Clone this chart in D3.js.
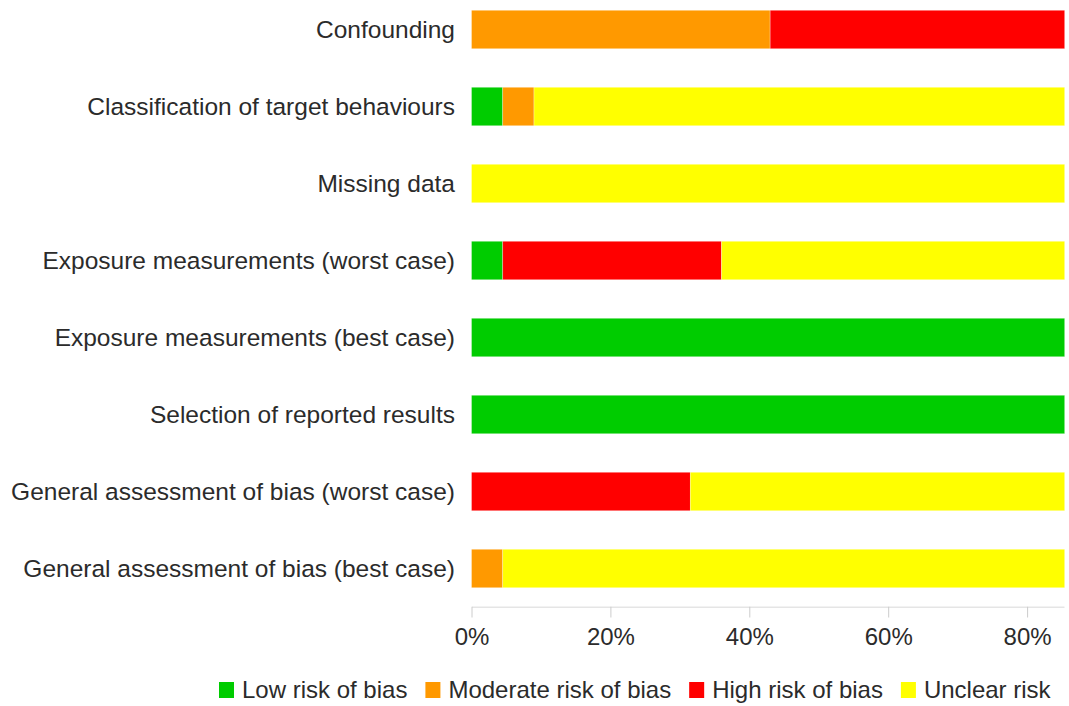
<!DOCTYPE html>
<html>
<head>
<meta charset="utf-8">
<script src="https://cdn.jsdelivr.net/npm/d3@7"></script>
<style>
  body { margin: 0; background: #fff; }
  svg { display: block; font-family: "Liberation Sans", Arial, sans-serif; }
</style>
</head>
<body>
<svg id="chart" width="1069" height="706"></svg>
<script>
// domains, top to bottom
var domains = [
  "Confounding",
  "Classification of target behaviours",
  "Missing data",
  "Exposure measurements (worst case)",
  "Exposure measurements (best case)",
  "Selection of reported results",
  "General assessment of bias (worst case)",
  "General assessment of bias (best case)"
];
var categories = ["Low risk of bias", "Moderate risk of bias", "High risk of bias", "Unclear risk"];
var colors = ["#00cc00", "#ff9900", "#ff0000", "#ffff00"];

// percent of studies per category (low, moderate, high, unclear)
var lowRisk      = [0,   4.5, 0,   4.5,  100, 100, 0,    0];
var moderateRisk = [43,  4.5, 0,   0,    0,   0,   0,    4.5];
var highRisk     = [57,  0,   0,   31.5, 0,   0,   31.5, 0];
var unclearRisk  = [0,   91,  100, 64,   0,   0,   68.5, 95.5];
var ticks = [0, 20, 40, 60, 80];

var series = [lowRisk, moderateRisk, highRisk, unclearRisk];
var rows = domains.map(function(d, i){
  var r = {name: d};
  categories.forEach(function(c, k){ r[c] = series[k][i]; });
  return r;
});

var svg = d3.select("#chart");
var left = 471.5, rightEdge = 1064.5;

var x = d3.scaleLinear().domain([0, 100]).range([left, left + 694.5]);
var y = d3.scaleBand().domain(domains).range([-9, 607]).paddingInner(0.5).paddingOuter(0.25);

// the original picture is cut off a bit past 80%
svg.append("defs").append("clipPath").attr("id", "plotclip")
  .append("rect").attr("x", 0).attr("y", 0).attr("width", rightEdge).attr("height", 706);

var stack = d3.stack().keys(categories)(rows);

svg.append("g").attr("clip-path", "url(#plotclip)")
  .selectAll("g")
  .data(stack)
  .join("g")
    .attr("fill", function(d, i){ return colors[i]; })
  .selectAll("rect")
  .data(function(d){ return d; })
  .join("rect")
    .attr("x", function(d){ return x(d[0]); })
    .attr("y", function(d){ return y(d.data.name); })
    .attr("width", function(d){ return x(d[1]) - x(d[0]); })
    .attr("height", y.bandwidth())
    .attr("stroke", "#fff")
    .attr("stroke-opacity", 0.5)
    .attr("stroke-width", function(d){ return d[1] > d[0] ? 0.6 : 0; });

// category labels
svg.append("g").selectAll("text")
  .data(domains)
  .join("text")
    .attr("x", 455)
    .attr("y", function(d){ return y(d) + y.bandwidth()/2; })
    .attr("dy", "0.35em")
    .attr("text-anchor", "end")
    .attr("fill", "#2b2b2b")
    .style("font-size", "24.5px")
    .text(function(d){ return d; });

// x axis
var axisY = 606.5;
var ax = svg.append("g")
  .attr("clip-path", "url(#plotclip)")
  .attr("transform", "translate(0," + axisY + ")")
  .call(d3.axisBottom(x).tickValues(ticks).tickSize(11).tickSizeOuter(0)
    .tickFormat(function(d){ return d + "%"; }));
ax.select(".domain").attr("stroke", "#ccc");
ax.selectAll(".tick line").attr("stroke", "#ccc");
ax.selectAll(".tick text")
  .attr("fill", "#2b2b2b")
  .attr("y", 21)
  .style("font-size", "24px")
  .style("font-family", "'Liberation Sans', Arial, sans-serif");

// legend
var legend = svg.append("g").attr("transform", "translate(219,682)");
var lx = 0;
categories.forEach(function(c, i){
  var g = legend.append("g").attr("transform", "translate(" + lx + ",0)");
  g.append("rect").attr("width", 15).attr("height", 16).attr("fill", colors[i]);
  var t = g.append("text")
    .attr("x", 23)
    .attr("y", 8)
    .attr("dy", "0.35em")
    .attr("fill", "#2b2b2b")
    .style("font-size", "24px")
    .text(c);
  lx += 23 + t.node().getComputedTextLength() + 18;
});
</script>
</body>
</html>
